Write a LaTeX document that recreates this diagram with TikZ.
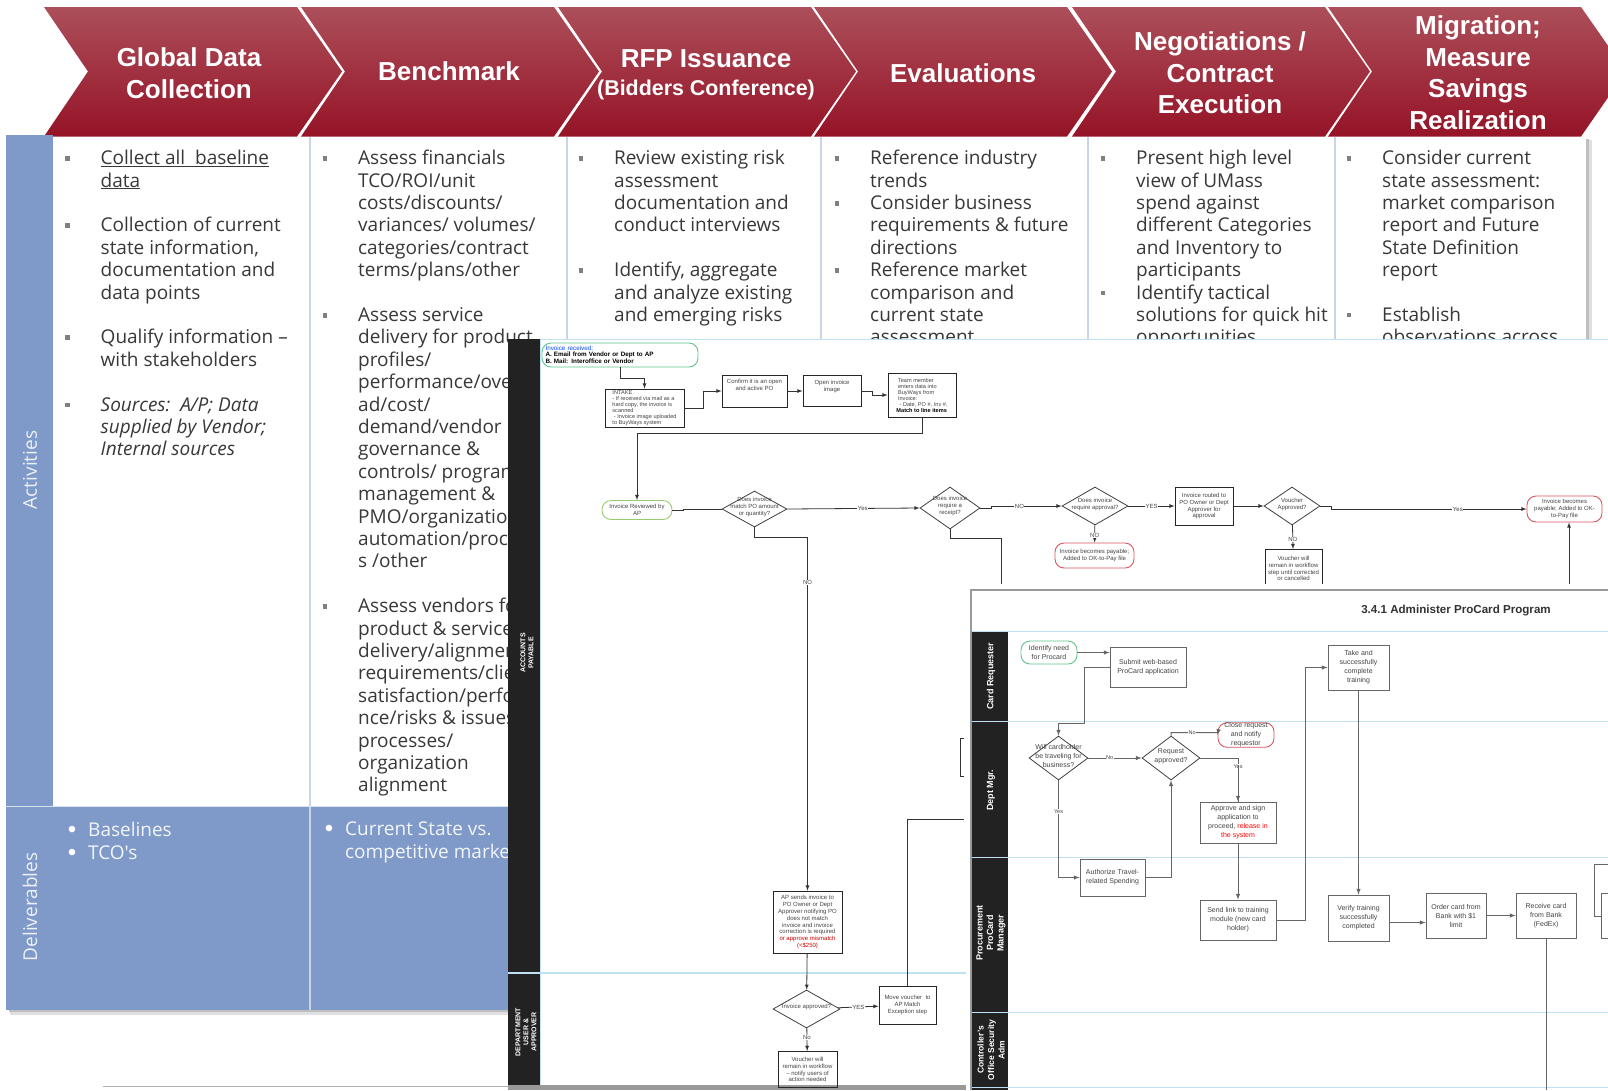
\documentclass[tikz,border=0pt]{standalone}
\usepackage{fontspec}
\setmainfont{Liberation Sans}
\newfontfamily\bodyfont{Open Sans}
\usepackage{tikz}
\usetikzlibrary{arrows,shapes.geometric}

\definecolor{wineTop}{HTML}{AC4F5A}
\definecolor{wineMid}{HTML}{A01D33}
\definecolor{wineBot}{HTML}{951327}
\definecolor{steel}{HTML}{7F9AC8}
\definecolor{palerule}{HTML}{C8D4E8}
\definecolor{bandblack}{HTML}{222222}
\definecolor{swimrule}{HTML}{BFE0F5}
\definecolor{flowgrey}{HTML}{444444}
\definecolor{startgreen}{HTML}{63C48F}
\definecolor{reviewgreen}{HTML}{98CC72}
\definecolor{stopred}{HTML}{DC5560}

\newcommand{\tickmark}{\llap{\textcolor{gray}{\rule[4pt]{4.5pt}{4.5pt}}\hspace{31pt}}}
\newcommand{\delivmark}{\llap{\textcolor{white}{\raisebox{-1pt}{\normalfont\fontsize{24}{20}\selectfont\textbullet}}\hspace{12pt}}}
\newcommand{\dia}[1]{\smash{\makebox[0pt]{\begin{tabular}[c]{@{}c@{}}#1\end{tabular}}}}

\begin{document}
\begin{tikzpicture}[x=1pt,y=-1pt,
  head/.style={text=white,align=center,font=\bfseries\fontsize{26}{31.5}\selectfont,inner sep=0},
  col/.style={anchor=north west,align=left,inner sep=0,text=black!78,font=\bodyfont\fontsize{19}{22.4}\selectfont},
  side/.style={rotate=90,text=white!85!steel,font=\bodyfont\fontsize{19}{24}\selectfont,inner sep=0},
  lane/.style={rotate=90,text=white,align=center,inner sep=0,font=\bfseries\fontsize{9}{10.5}\selectfont},
  box/.style 2 args={draw=black!85,line width=.8pt,inner sep=0,minimum width=#1,minimum height=#2,align=center,text=flowgrey},
  dec/.style 2 args={diamond,draw=black!75,line width=.8pt,inner sep=0,minimum width=#1,minimum height=#2,text=flowgrey},
  oval/.style n args={3}{draw=#3,line width=.9pt,rounded corners=9pt,fill=white,inner sep=0,minimum width=#1,minimum height=#2,align=center,text=flowgrey},
  one/.style={font=\fontsize{6}{6.9}\selectfont},
  two/.style={font=\fontsize{7}{9}\selectfont},
  tag/.style={fill=white,inner sep=.5pt,text=flowgrey},
  tagb/.style={tag,font=\fontsize{5.5}{6}\selectfont},
  flow/.style={draw=black!80,line width=.8pt,>=latex},
  flowb/.style={draw=black!60,line width=1pt,>=latex},
  swim/.style={draw=swimrule,line width=1pt}]

  \clip (0,0) rectangle (1608,1090);
  \fill[white] (0,0) rectangle (1608,1090);

  % the chevrons
  \foreach \x in {44,301,558,814,1072,1328}
    \shade[top color=wineTop,middle color=wineMid,bottom color=wineBot]
      (\x,7) -- ++(253,0) -- ++(45,64.5) -- ++(-45,65) -- ++(-253,0) -- ++(44,-65) -- cycle;
  \node[head] (global) at (189,73) {Global Data\\Collection};
  \node[head] (bench) at (449,71) {Benchmark};
  \node[head] (rfp) at (706,75) {RFP Issuance\\[-3pt]{\fontsize{21.4}{24}\selectfont (Bidders Conference)}};
  \node[head] (eval) at (963,73) {Evaluations};
  \node[head] (nego) at (1220,73) {Negotiations /\\Contract\\Execution};
  \node[head] (migr) at (1478,72.5) {Migration;\\Measure\\Savings\\Realization};

  % the table
  \fill[black!12] (10,140) rectangle (1592,1015);
  \fill[black!25] (9,139) rectangle (1589,1012);
  \fill[white] (53,137) rectangle (1586,806);
  \fill[steel] (6,135) rectangle (53,1010);
  \fill[steel] (53,806) rectangle (1586,1010);
  \foreach \x in {310,567,821,1088,1335}
    \draw[palerule,line width=1.2pt] (\x,137) -- (\x,1010);
  \draw[white!70!steel,line width=1pt] (6,806) -- (1586,806);
  \node[side] (act) at (30,470) {Activities};
  \node[side] (deliv) at (30,907) {Deliverables};

  \node[col] (c1) at (100.5,150) {\tickmark\underline{Collect all\ \ baseline}\\\underline{data}\\[22.4pt]
    \tickmark Collection of current\\state information,\\documentation and\\data points\\[22.4pt]
    \tickmark Qualify information –\\with stakeholders\\[22.4pt]
    \tickmark\itshape Sources:\ \ A/P; Data\\\itshape supplied by Vendor;\\\itshape Internal sources};
  \node[col] (c2) at (358,150) {\tickmark Assess financials\\TCO/ROI/unit\\costs/discounts/\\variances/ volumes/\\categories/contract\\terms/plans/other\\[22.4pt]
    \tickmark Assess service\\delivery for product\\profiles/\\performance/overhe\\ad/cost/\\demand/vendor\\governance \&\\controls/ program\\management \&\\PMO/organization\\automation/proces\\s /other\\[22.4pt]
    \tickmark Assess vendors for\\product \& service\\delivery/alignment\\requirements/client\\satisfaction/performa\\nce/risks \& issues\\processes/\\organization\\alignment};
  \node[col] (c3) at (614,150) {\tickmark Review existing risk\\assessment\\documentation and\\conduct interviews\\[22.4pt]
    \tickmark Identify, aggregate\\and analyze existing\\and emerging risks};
  \node[col] (c4) at (870,150) {\tickmark Reference industry\\trends\\\tickmark Consider business\\requirements \& future\\directions\\\tickmark Reference market\\comparison and\\current state\\assessment};
  \node[col] (c5) at (1136,150) {\tickmark Present high level\\view of UMass\\spend against\\different Categories\\and Inventory to\\participants\\\tickmark Identify tactical\\solutions for quick hit\\opportunities};
  \node[col] (c6) at (1382,150) {\tickmark Consider current\\state assessment:\\market comparison\\report and Future\\State Definition\\report\\[22.4pt]\tickmark Establish\\observations across};
  \node[col,text=white!90!steel] (d1) at (88,822) {\delivmark Baselines\\\delivmark TCO's};
  \node[col,text=white!90!steel] (d2) at (345,822) {\delivmark Current State vs.\\competitive market};
  \draw[black!30] (103,1086) -- (509,1086);

  % first chart
  \fill[white] (508,339) rectangle (1608,1085);
  \fill[black!40] (508,1085) rectangle (966,1090);
  \draw[swimrule,line width=1pt] (508,339) -- (1608,339);
  \fill[bandblack] (508,339) rectangle (540,1085);
  \draw[swim] (540.5,339) -- (540.5,1085);
  \draw[swim,line width=1.5pt] (508,973) -- (966,973);
  \node[lane,font=\bfseries\fontsize{7}{8}\selectfont] (ap) at (527,653) {ACCOUNTS\\PAYABLE};
  \node[lane,font=\bfseries\fontsize{7}{8}\selectfont] (dept) at (526,1032) {DEPARTMENT\\USER \&\\APPROVER};

  \node[oval={156}{24}{startgreen},one,text width=149pt,align=left,font=\fontsize{6.3}{5.8}\selectfont] (recv) at (620,355) {\textcolor{blue!70!cyan}{Invoice received:}\\\textcolor{black}{\bfseries A. Email from Vendor or Dept to AP}\\\textcolor{black}{\bfseries B. Mail: Interoffice or Vendor}};
  \node[box={79}{38},one,align=left,font=\fontsize{5.6}{6}\selectfont] (intake) at (644.5,408) {INTAKE\\- If received via mail as a\\hard copy, the invoice is\\scanned\\\ - Invoice image uploaded\\to BuyWays system};
  \node[box={65}{32},one] (confirm) at (754.5,391) {Confirm it is an open\\and active PO\\[6pt]};
  \node[box={58}{31},one] (open) at (832,391) {Open invoice\\image\\[4pt]};
  \node[box={68}{44},one,align=left,font=\fontsize{5.6}{6}\selectfont] (team) at (922,395) {\ Team member\\\ enters data into\\\ BuyWays from\\\ Invoice:\\\ \ - Date, PO \#, Inv \#,\\\bfseries\textcolor{black}{Match to line items}};
  \node[oval={70}{19}{reviewgreen},one] (review) at (637,510) {Invoice Reviewed by\\AP};
  \node[dec={65}{36},one] (match) at (754.5,509) {\dia{Does invoice\\match PO amount\\or quantity?}};
  \node[dec={60}{42},one] (receipt) at (950,508) {\dia{Does invoice\\require a\\receipt?}};
  \node[dec={66}{38},one] (appr) at (1095,506) {\dia{Does invoice\\require approval?}};
  \node[box={58}{38},one] (routed) at (1204,506) {Invoice routed to\\PO Owner or Dept\\Approver for\\approval};
  \node[dec={56}{38},one] (vouch) at (1292,506) {\dia{Voucher\\Approved?}};
  \node[oval={75}{26}{stopred},one] (pay) at (1564.5,509) {Invoice becomes\\payable; Added to OK-\\to-Pay file};
  \node[oval={79}{25}{stopred},one] (paymid) at (1094.5,555.5) {Invoice becomes payable;\\Added to OK-to-Pay file};
  \node[box={57}{38},one,anchor=north] (stay) at (1293.5,549) {Voucher will\\remain in workflow\\step until corrected\\or cancelled};
  \node[box={69}{62},one] (send) at (807.5,922) {AP sends invoice to\\PO Owner or Dept\\Approver notifying PO\\does not match\\invoice and invoice\\correction is required\\\textcolor{red!80!black}{or approve mismatch}\\\textcolor{red!80!black}{(<\$250)}};
  \node[dec={67}{38},one] (iappr) at (806.5,1009) {\dia{Invoice approved?}};
  \node[box={57}{38},one] (move) at (907.5,1005) {Move voucher\ \ to\\AP Match\\Exception step};
  \node[box={59}{36},one,anchor=north] (remain) at (807.5,1051) {Voucher will\\remain in workflow\\– notify users of\\action needed};
  \coordinate (pe) at (964,819);
  \coordinate (pf) at (1001,590);
  \coordinate (pg) at (1569,590);

  \draw[flow,->] (recv.south) -- ++(0,11) -| (intake.north);
  \draw[flow,->] (intake.east) -- ++(19,0) |- (confirm.west);
  \draw[flow,->] (confirm) -- (open);
  \draw[flow,->] (open.east) -- ++(11,0) |- (team.west);
  \draw[flow,->] (team.south) -- ++(0,16) -| (review.north);
  \draw[flow] (review.east) -- ++(11,0) |- (match.west);
  \draw[flow,->] (match.east) -- node[tag,one,pos=.57] (ly) {Yes} (receipt.west);
  \draw[flow,->] (match.south) -- ++(0,10) -| node[tag,one,pos=.564] (ln) {NO} (send.north);
  \draw[flow,->] (receipt.east) -- ++(11,0) |- node[tag,one,pos=.7] (ln2) {NO} (appr.west);
  \draw[flow] (receipt.south) -- ++(0,9) -| (pf);
  \draw[flow,->] (appr) -- node[tag,one] (ly2) {YES} (routed);
  \draw[flow,->] (routed) -- (vouch);
  \draw[flow,->] (vouch.east) -- ++(11,0) |- node[tag,one,pos=.824] (ly3) {Yes} (pay.west);
  \draw[flow,->] (appr) -- node[tag,one,pos=.6] (ln3) {NO} (paymid);
  \draw[flow,->] (vouch) -- node[tag,one,pos=.6] (ln4) {NO} (stay);
  \draw[flow,->] (pg) -- (pay.south -| pg);
  \draw[flow,->] (send) -- (iappr);
  \draw[flow,->] (iappr) -- node[tag,one] (ly4) {YES} (move);
  \draw[flow,->] (iappr) -- node[tag,one,pos=.4] (ln5) {No} (remain);
  \draw[flow] (move.north) |- (pe);
  \draw[flow] (964,738) -- (960,738) -- (960,776) -- (964,776);

  % second chart
  \fill[white] (966,584) rectangle (1608,1090);
  \draw[black!40,line width=1.5pt] (971,1090) -- (971,590) -- (1608,590);
  \fill[bandblack] (972,631) rectangle (1008,1090);
  \foreach \y in {631,721,857,1012,1087}
    \draw[swim] (972,\y) -- (1608,\y);
  \node[lane] (lreq) at (991,676) {Card Requester};
  \node[lane] (lmgr) at (991,790) {Dept Mgr.};
  \node[lane] (lproc) at (991,933) {Procurement\\ProCard\\Manager};
  \node[lane,font=\bfseries\fontsize{8.5}{10.5}\selectfont] (lctrl) at (991,1050) {Controller's\\Office Security\\Adm};
  \node[inner sep=0,text=black!80,font=\bfseries\fontsize{11.6}{14}\selectfont] (title) at (1456,611) {3.4.1 Administer ProCard Program};

  \node[oval={56}{23}{startgreen},two] (need) at (1049,652.5) {Identify need\\for Procard};
  \node[box={76}{40},two,draw=black!60] (submit) at (1148,667) {Submit web-based\\ProCard application};
  \node[box={61}{45},two,draw=black!60] (take) at (1358.5,667.5) {Take and\\successfully\\complete\\training};
  \node[dec={59}{44},two] (travel) at (1058.5,758) {\dia{Will cardholder\\be traveling for\\business?}};
  \node[dec={58}{44},two] (req) at (1171,758) {\dia{Request\\approved?}};
  \node[oval={56}{24}{stopred},two] (close) at (1246,735) {Close request\\and notify\\requestor};
  \node[box={76}{41},two,draw=black!60] (sign) at (1238,822.5) {Approve and sign\\application to\\proceed, \textcolor{red}{release in}\\\textcolor{red}{the system}};
  \node[box={65}{37},two,draw=black!60] (auth) at (1112.5,877.5) {Authorize Travel-\\related Spending};
  \node[box={76}{40},two,draw=black!60] (link) at (1238,920) {Send link to training\\module (new card\\holder)};
  \node[box={61}{46},two,draw=black!60] (verify) at (1358.5,918) {Verify training\\successfully\\completed};
  \node[box={60}{45},two,draw=black!60] (order) at (1456,915.5) {Order card from\\Bank with \$1\\limit};
  \node[box={60}{45},two,draw=black!60] (recv2) at (1546,915.5) {Receive card\\from Bank\\(FedEx)};
  \node[box={60}{52},two,draw=black!60,anchor=north west] (p1) at (1594,864) {};
  \node[box={60}{45},two,draw=black!60,anchor=north west,fill=white] (p2) at (1601,893) {};
  \coordinate (pb) at (1546,1090);

  \draw[flowb,->] (need) -- (need -| submit.west);
  \draw[flowb,->] (submit.west |- 0,667) -- ++(-25,0) |- (1058.5,723) -- (travel.north);
  \draw[flowb,->] (travel) -- node[tagb,pos=.4] (lno) {No} (req);
  \draw[flowb,->] (req.north) -- ++(0,-3) -- node[tagb,pos=.45] (lno2) {No} ++(47,0) -- (close.west);
  \draw[flowb] (req.east) -| node[tagb,pos=.6] (lyes) {Yes} (sign.north);
  \draw[flowb,->] (sign.north |- 0,765) -- (sign.north);
  \draw[flowb,->] (sign) -- (link);
  \draw[flowb,->] (travel) |- node[tagb,pos=.16] (lyes2) {Yes} (auth.west);
  \draw[flowb,->] (auth.east) -| (req.south);
  \draw[flowb,->] (link.east) -- ++(29,0) |- (take.west);
  \draw[flowb,->] (take) -- (verify);
  \draw[flowb,->] (verify.east |- order) ++(0,7) -- (order.west |- 0,922.5);
  \draw[flowb,->] (order) -- (recv2);
  \draw[flowb] (recv2) -- (pb);
\end{tikzpicture}
\end{document}
